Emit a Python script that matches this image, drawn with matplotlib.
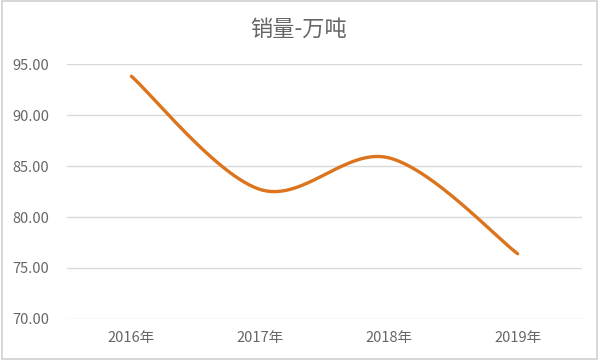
import numpy as np
import matplotlib
matplotlib.use("Agg")
import matplotlib.pyplot as plt
from matplotlib.patches import Rectangle

plt.rcParams['font.family'] = ['Noto Sans CJK SC', 'DejaVu Sans']

title = "销量-万吨"
categories = ["2016年", "2017年", "2018年", "2019年"]
values = [93.8, 82.7, 85.8, 76.4]
y_ticks = [70, 75, 80, 85, 90, 95]


def smooth_curve(xs, ys, n=60):
    xs = np.asarray(xs, float)
    ys = np.asarray(ys, float)
    pts = np.column_stack([xs, ys])
    out = []
    for i in range(len(pts) - 1):
        p0 = pts[i - 1] if i > 0 else pts[i]
        p1 = pts[i]
        p2 = pts[i + 1]
        p3 = pts[i + 2] if i + 2 < len(pts) else pts[i + 1]
        c1 = p1 + (p2 - p0) / 6.0
        c2 = p2 - (p3 - p1) / 6.0
        t = np.linspace(0, 1, n)[:, None]
        seg = ((1 - t) ** 3) * p1 + 3 * ((1 - t) ** 2) * t * c1 + 3 * (1 - t) * t ** 2 * c2 + t ** 3 * p2
        out.append(seg if i == 0 else seg[1:])
    res = np.vstack(out)
    return res[:, 0], res[:, 1]


fig = plt.figure(figsize=(6, 3.6), dpi=100)
ax = fig.add_axes([0.1117, 0.1139, 0.8583, 0.7083])

x = np.arange(len(categories))
sx, sy = smooth_curve(x, values)
ax.plot(sx, sy, color="#DC741E", lw=2.4, solid_capstyle="round", zorder=3)

ax.set_xlim(-0.5, len(categories) - 0.5)
ax.set_ylim(70, 95)
ax.set_yticks(y_ticks)
ax.set_yticklabels([f"{v:.2f}" for v in y_ticks])
ax.set_xticks(x)
ax.set_xticklabels(categories)
ax.tick_params(axis='both', length=0, colors="#666666", labelsize=10.5)
ax.tick_params(axis='y', pad=13)
ax.tick_params(axis='x', pad=9)
ax.grid(axis='y', color="#D9D9D9", lw=1)
ax.set_axisbelow(True)
for s in ax.spines.values():
    s.set_visible(False)

fig.text(0.497, 0.918, title, ha='center', va='center', fontsize=16, color="#666666")

fig.patches.append(Rectangle((0.003, 0.004), 0.992, 0.992, transform=fig.transFigure,
                             fill=False, edgecolor="#D0D0D0", lw=1.2))

fig.savefig("out.png", dpi=100)
